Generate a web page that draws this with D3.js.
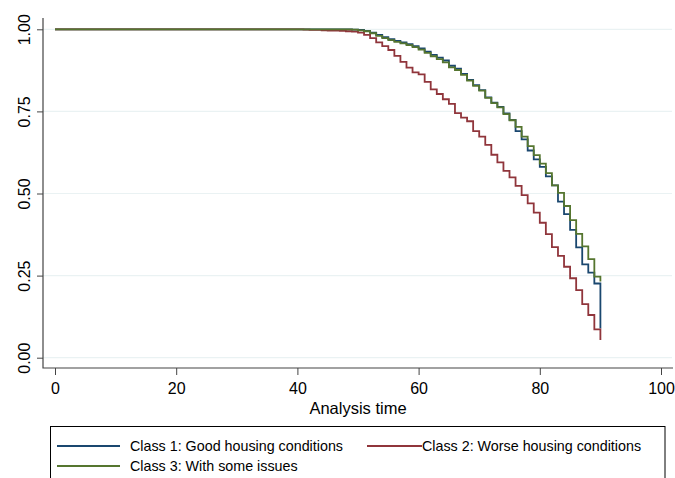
<!DOCTYPE html>
<html>
<head>
<meta charset="utf-8">
<script src="https://cdn.jsdelivr.net/npm/d3@7"></script>
<style>
	html, body { margin: 0; padding: 0; background: #fff; }
	svg { display: block; font-family: "Liberation Sans", Arial, sans-serif; }
</style>
</head>
<body>
<div id="chart"></div>
<script>
// ages where the survival estimate changes (step starts)
var ages = [0, 41, 42, 43, 44, 45, 46, 47, 48, 49, 50,
	51, 52, 53, 54, 55, 56, 57, 58, 59, 60,
	61, 62, 63, 64, 65, 66, 67, 68, 69, 70,
	71, 72, 73, 74, 75, 76, 77, 78, 79, 80,
	81, 82, 83, 84, 85, 86, 87, 88, 89, 90];

var class1 = [1, 1, 1, 1, 1, 1, 1, 1, 1, 0.999, 0.998,
	0.995, 0.990, 0.983, 0.976, 0.970, 0.965, 0.960, 0.955, 0.949, 0.942,
	0.932, 0.922, 0.914, 0.905, 0.889, 0.880, 0.864, 0.846, 0.830, 0.815,
	0.793, 0.777, 0.764, 0.744, 0.724, 0.690, 0.665, 0.631, 0.604, 0.581,
	0.552, 0.525, 0.475, 0.437, 0.389, 0.336, 0.284, 0.259, 0.226, 0.089];

var class2 = [1, 0.999, 0.998, 0.998, 0.997, 0.996, 0.996, 0.995, 0.994, 0.993, 0.990,
	0.983, 0.973, 0.960, 0.949, 0.937, 0.919, 0.901, 0.883, 0.869, 0.863,
	0.840, 0.817, 0.803, 0.787, 0.773, 0.745, 0.731, 0.720, 0.690, 0.673,
	0.648, 0.618, 0.595, 0.569, 0.549, 0.523, 0.495, 0.470, 0.442, 0.411,
	0.376, 0.337, 0.310, 0.277, 0.242, 0.206, 0.163, 0.130, 0.086, 0.054];

var class3 = [1, 1, 1, 1, 1, 1, 1, 1, 1, 0.999, 0.997,
	0.994, 0.988, 0.980, 0.973, 0.967, 0.962, 0.957, 0.952, 0.946, 0.938,
	0.928, 0.918, 0.909, 0.899, 0.884, 0.876, 0.861, 0.844, 0.828, 0.813,
	0.791, 0.775, 0.762, 0.742, 0.723, 0.703, 0.673, 0.644, 0.617, 0.591,
	0.562, 0.525, 0.502, 0.462, 0.419, 0.377, 0.339, 0.300, 0.247, 0.232];

var xTicks = [0, 20, 40, 60, 80, 100];
var yTicks = [0, 0.25, 0.5, 0.75, 1];
var yTickLabels = ["0.00", "0.25", "0.50", "0.75", "1.00"];

var seriesNames = ["Class 1: Good housing conditions", "Class 2: Worse housing conditions", "Class 3: With some issues"];
var seriesColors = ["#1a476f", "#90353b", "#55752f"];

var width = 675, height = 478;
// plot frame
var frame = {left: 43, right: 673, top: 18, bottom: 368};

var svg = d3.select("#chart").append("svg")
	.attr("width", width)
	.attr("height", height);

// set the ranges
var x = d3.scaleLinear().domain([0, 100]).range([55, 661]);
var y = d3.scaleLinear().domain([0, 1]).range([357.7, 29.3]);

// grid lines
svg.append("g")
	.selectAll("line")
	.data(yTicks)
	.enter().append("line")
	.attr("x1", frame.left)
	.attr("x2", frame.right - 1)
	.attr("y1", function(d) { return y(d); })
	.attr("y2", function(d) { return y(d); })
	.attr("stroke", "#eaf2f3")
	.attr("stroke-width", 1.2);

// x axis
var xAxis = svg.append("g")
	.attr("transform", "translate(0," + frame.bottom + ")")
	.call(d3.axisBottom(x).tickValues(xTicks).tickSize(7).tickPadding(8).tickFormat(d3.format("d")));
xAxis.select(".domain").remove();
xAxis.selectAll("line").attr("stroke", "#444");
xAxis.selectAll("text")
	.attr("fill", "#000")
	.style("font-size", "16px")
	.style("font-family", "'Liberation Sans', Arial, sans-serif");

// y axis, labels turned on their side
var yAxis = svg.append("g")
	.attr("transform", "translate(" + frame.left + ",0)")
	.call(d3.axisLeft(y).tickValues(yTicks).tickSize(6)
		.tickFormat(function(d, i) { return yTickLabels[i]; }));
yAxis.select(".domain").remove();
yAxis.selectAll("line").attr("stroke", "#444");
yAxis.selectAll("text")
	.attr("fill", "#000")
	.attr("x", 0)
	.attr("y", 0)
	.attr("dy", 0)
	.attr("text-anchor", "middle")
	.attr("transform", "translate(-13,0) rotate(-90)")
	.style("font-size", "16px")
	.style("font-family", "'Liberation Sans', Arial, sans-serif");

// axis lines
svg.append("path")
	.attr("d", "M" + frame.left + "," + frame.top + "V" + frame.bottom + "H" + frame.right)
	.attr("fill", "none")
	.attr("stroke", "#444")
	.attr("stroke-width", 1.2);

// curves
var line = d3.line()
	.curve(d3.curveStepAfter)
	.x(function(d) { return x(d.age); })
	.y(function(d) { return y(d.s); });

[class1, class2, class3].forEach(function(vals, k) {
	var pts = ages.map(function(a, i) { return {age: a, s: vals[i]}; });
	svg.append("path")
		.datum(pts)
		.attr("fill", "none")
		.attr("stroke", seriesColors[k])
		.attr("stroke-width", 1.8)
		.attr("d", line);
});

// x title
svg.append("text")
	.attr("x", (frame.left + frame.right) / 2)
	.attr("y", 414)
	.attr("text-anchor", "middle")
	.attr("font-size", "16.5px")
	.text("Analysis time");

// legend
var legend = svg.append("g");
legend.append("rect")
	.attr("x", 50.5)
	.attr("y", 426.5)
	.attr("width", 614.5)
	.attr("height", 60)
	.attr("fill", "#fff")
	.attr("stroke", "#000")
	.attr("stroke-width", 1);

var legendItems = [
	{i: 0, x1: 57, x2: 120, tx: 130, y: 446},
	{i: 1, x1: 367, x2: 422, tx: 422, y: 446},
	{i: 2, x1: 57, x2: 120, tx: 130, y: 466}
];

legendItems.forEach(function(it) {
	legend.append("line")
		.attr("x1", it.x1)
		.attr("x2", it.x2)
		.attr("y1", it.y)
		.attr("y2", it.y)
		.attr("stroke", seriesColors[it.i])
		.attr("stroke-width", 1.8);
	legend.append("text")
		.attr("x", it.tx)
		.attr("y", it.y + 5)
		.attr("font-size", "14.3px")
		.text(seriesNames[it.i]);
});
</script>
</body>
</html>
